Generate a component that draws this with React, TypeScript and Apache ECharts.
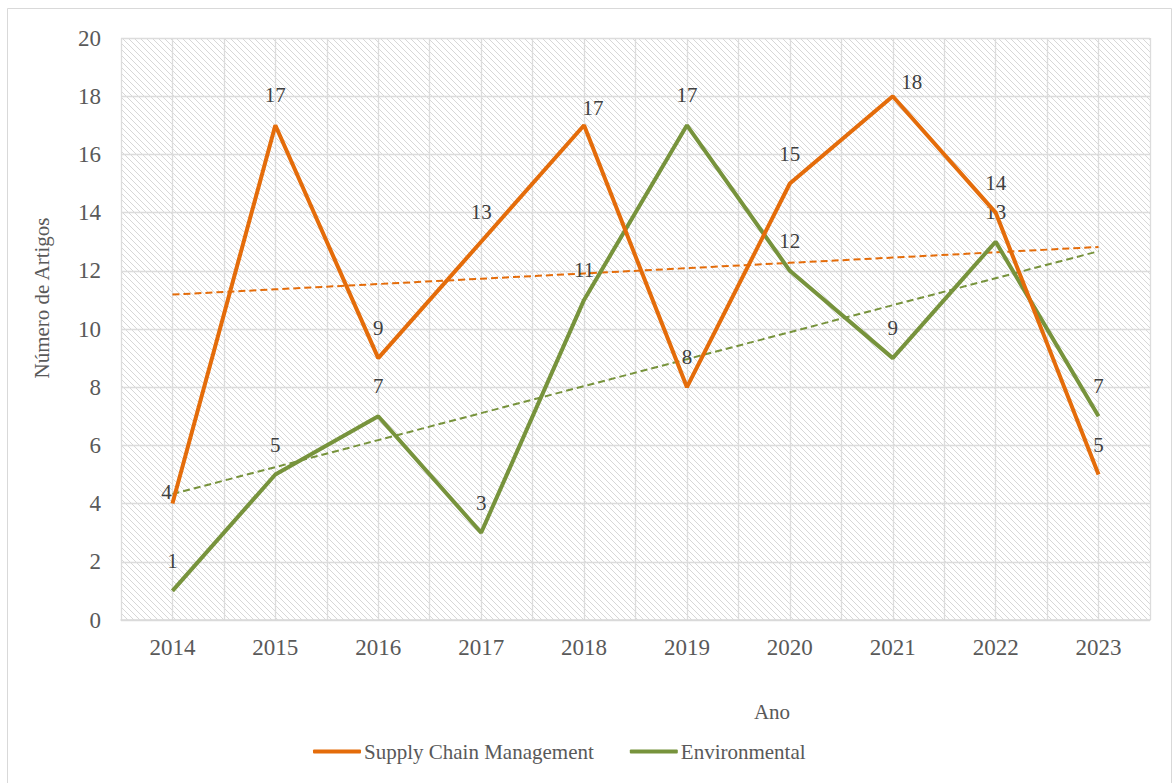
import React, { useEffect, useRef } from "react";
import * as echarts from "echarts";

const years = ["2014", "2015", "2016", "2017", "2018", "2019", "2020", "2021", "2022", "2023"];
const scmValues = [4, 17, 9, 13, 17, 8, 15, 18, 14, 5];
const envValues = [1, 5, 7, 3, 11, 17, 12, 9, 13, 7];
const seriesNames = ["Supply Chain Management", "Environmental"];
const yTicks = { min: 0, max: 20, interval: 2 };

// label offset exceptions (index -> [dx, dy]) relative to default "top" placement
const scmLabelOffsets: Record<number, [number, number]> = { 0: [-6, 18], 4: [9, 13], 7: [19, 16] };

const ORANGE = "#E46C0A";
const GREEN = "#77933C";
const FONT = "'Liberation Serif', 'Times New Roman', serif";

function trend(values: number[]): number[] {
  const n = values.length;
  const xm = (n - 1) / 2;
  const ym = values.reduce((a, b) => a + b, 0) / n;
  let sxy = 0;
  let sxx = 0;
  values.forEach((v, i) => {
    sxy += (i - xm) * (v - ym);
    sxx += (i - xm) * (i - xm);
  });
  const slope = sxy / sxx;
  return values.map((_, i) => +(ym + slope * (i - xm)).toFixed(4));
}

function makePattern() {
  const s = 6;
  const c = document.createElement("canvas");
  c.width = s;
  c.height = s;
  const ctx = c.getContext("2d")!;
  ctx.fillStyle = "#ffffff";
  ctx.fillRect(0, 0, s, s);
  ctx.strokeStyle = "#d7d7d7";
  ctx.lineWidth = 1;
  ctx.beginPath();
  ctx.moveTo(-1, -1);
  ctx.lineTo(s + 1, s + 1);
  ctx.moveTo(-1, s - 1);
  ctx.lineTo(1, s + 1);
  ctx.moveTo(s - 1, -1);
  ctx.lineTo(s + 1, 1);
  ctx.stroke();
  return { image: c, repeat: "repeat" as const, imageWidth: s, imageHeight: s };
}

export default function App() {
  const ref = useRef<HTMLDivElement>(null);
  useEffect(() => {
    if (!ref.current) return;
    const chart = echarts.init(ref.current, null, { renderer: "svg" });
    const labelBase = {
      show: true,
      position: "top" as const,
      distance: 19,
      fontFamily: FONT,
      fontSize: 21,
      color: "#404040",
    };
    const scmData = scmValues.map((v, i) => {
      const off = scmLabelOffsets[i];
      return off ? { value: v, label: { offset: off } } : v;
    });
    chart.setOption({
      animation: false,
      backgroundColor: "#ffffff",
      grid: {
        left: 121,
        right: 25,
        top: 38,
        bottom: 163,
        show: true,
        borderWidth: 0,
        backgroundColor: makePattern() as any,
      },
      xAxis: [
        {
          type: "category",
          data: years,
          boundaryGap: true,
          axisLine: { show: true, lineStyle: { color: "#d9d9d9", width: 1.5 } },
          axisTick: { show: false },
          axisLabel: { fontFamily: FONT, fontSize: 23, color: "#595959", margin: 16 },
          splitLine: { show: false },
        },
        {
          type: "value",
          min: 0,
          max: 20,
          interval: 1,
          position: "bottom",
          axisLine: { show: false },
          axisTick: { show: false },
          axisLabel: { show: false },
          splitLine: { show: true, lineStyle: { color: "#dcdcdc", width: 1.3 } },
        },
      ],
      yAxis: {
        type: "value",
        min: yTicks.min,
        max: yTicks.max,
        interval: yTicks.interval,
        axisLine: { show: false },
        axisTick: { show: false },
        axisLabel: { fontFamily: FONT, fontSize: 23, color: "#595959", margin: 20 },
        splitLine: { show: true, lineStyle: { color: "#dcdcdc", width: 1.3 } },
      },
      legend: {
        left: 313,
        top: 741,
        padding: 0,
        itemWidth: 48,
        itemHeight: 4,
        itemGap: 36,
        textStyle: { fontFamily: FONT, fontSize: 21, color: "#595959", padding: [0, 0, 0, -2] },
        data: [
          { name: seriesNames[0], icon: "roundRect", itemStyle: { color: ORANGE } },
          { name: seriesNames[1], icon: "roundRect", itemStyle: { color: GREEN } },
        ],
      },
      graphic: [
        {
          type: "rect",
          shape: { x: 7.5, y: 8.5, width: 1164, height: 800 },
          style: { fill: "none", stroke: "#d9d9d9", lineWidth: 1 },
          silent: true,
          z: -1,
        },
        {
          type: "text",
          x: 42,
          y: 298,
          rotation: Math.PI / 2,
          style: {
            text: "Número de Artigos",
            fontFamily: FONT,
            fontSize: 21,
            fill: "#595959",
            align: "center",
            verticalAlign: "middle",
          },
        },
        {
          type: "text",
          x: 772,
          y: 712,
          style: {
            text: "Ano",
            fontFamily: FONT,
            fontSize: 21,
            fill: "#595959",
            align: "center",
            verticalAlign: "middle",
          },
        },
      ],
      series: [
        {
          name: seriesNames[0] + " (tendência)",
          type: "line",
          data: trend(scmValues),
          symbol: "none",
          lineStyle: { color: ORANGE, width: 2, type: [7, 4] },
          itemStyle: { color: ORANGE },
          z: 1,
          silent: true,
        },
        {
          name: seriesNames[1] + " (tendência)",
          type: "line",
          data: trend(envValues),
          symbol: "none",
          lineStyle: { color: GREEN, width: 2, type: [7, 4] },
          itemStyle: { color: GREEN },
          z: 1,
          silent: true,
        },
        {
          name: seriesNames[0],
          type: "line",
          data: scmData,
          symbol: "circle",
          symbolSize: 1,
          itemStyle: { color: "rgba(0,0,0,0)", borderWidth: 0 },
          lineStyle: { color: ORANGE, width: 4 },
          label: labelBase,
          z: 3,
        },
        {
          name: seriesNames[1],
          type: "line",
          data: envValues,
          symbol: "circle",
          symbolSize: 1,
          itemStyle: { color: "rgba(0,0,0,0)", borderWidth: 0 },
          lineStyle: { color: GREEN, width: 4 },
          label: labelBase,
          z: 2,
        },
      ],
    });
    return () => chart.dispose();
  }, []);
  return (
    <div
      ref={ref}
      style={{ position: "absolute", left: 0, top: 0, width: 1175, height: 783 }}
    />
  );
}
